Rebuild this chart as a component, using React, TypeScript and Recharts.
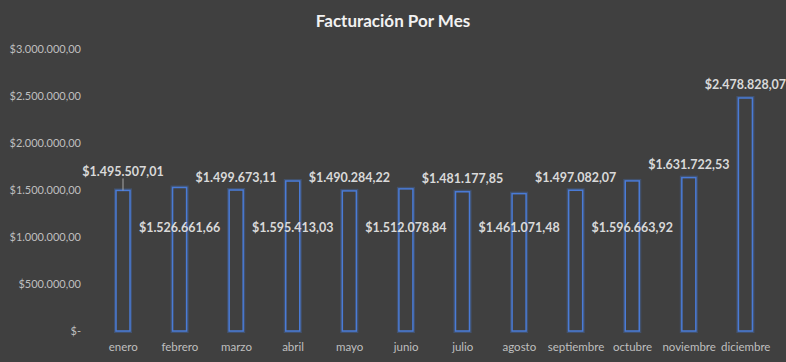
import { BarChart, Bar, XAxis, YAxis, LabelList } from 'recharts'

const months = ['enero', 'febrero', 'marzo', 'abril', 'mayo', 'junio', 'julio', 'agosto', 'septiembre', 'octubre', 'noviembre', 'diciembre']
const revenue = [1495507.01, 1526661.66, 1499673.11, 1595413.03, 1490284.22, 1512078.84, 1481177.85, 1461071.48, 1497082.07, 1596663.92, 1631722.53, 2478828.07]
const yTicks = [0, 500000, 1000000, 1500000, 2000000, 2500000, 3000000]

const data = months.map((m, i) => ({ month: m, value: revenue[i] }))

const FONT = 'Lato, "Noto Sans", sans-serif'

function fmt(n: number) {
  if (n === 0) return '$-'
  const [int, dec] = n.toFixed(2).split('.')
  return '$' + int.replace(/\B(?=(\d{3})+(?!\d))/g, '.') + ',' + dec
}

// barras con contorno azul y un leve brillo
const GlowBar = (props: any) => {
  const { x, y, width, height } = props
  return (
    <g>
      <rect x={x} y={y} width={width} height={height} fill="none" stroke="#4472C4" strokeOpacity={0.35} strokeWidth={4} />
      <rect x={x} y={y} width={width} height={height} fill="#404040" stroke="#4A7BD6" strokeWidth={1.5} />
    </g>
  )
}

// etiquetas alternadas: arriba o dentro de la barra
const ValueLabel = (props: any) => {
  const { x, y, width, height, index, value } = props
  const cx = x + width / 2
  const base = y + height
  const above = index % 2 === 0 || index === 11
  const ty = above ? (index === 0 ? y - 19 : y - 13) : base - 104
  return (
    <g>
      {index === 0 && <line x1={cx} y1={y} x2={cx} y2={y - 12} stroke="#A6A6A6" strokeWidth={1} />}
      <text x={cx} y={ty} textAnchor="middle" dominantBaseline="central" fill="#D9D9D9" fontSize={12.5} fontWeight={700} fontFamily={FONT}>
        {fmt(value)}
      </text>
    </g>
  )
}

export default function App() {
  return (
    <div style={{ position: 'absolute', left: 0, top: 0, width: 786, height: 362, background: '#404040' }}>
      <div style={{ position: 'absolute', top: 10, width: 786, textAlign: 'center', color: '#F2F2F2', fontFamily: FONT, fontWeight: 700, fontSize: 17 }}>
        Facturación Por Mes
      </div>
      <BarChart width={786} height={362} data={data} margin={{ top: 49, right: 12, bottom: 0, left: 0 }} barSize={14}>
        <XAxis
          dataKey="month"
          axisLine={false}
          tickLine={false}
          height={31}
          interval={0}
          tickMargin={6}
          tick={{ fill: '#BFBFBF', fontSize: 11.5, fontFamily: FONT }}
        />
        <YAxis
          width={95}
          domain={[0, 3000000]}
          ticks={yTicks}
          axisLine={false}
          tickLine={false}
          tickSize={0}
          tickMargin={14}
          tickFormatter={fmt}
          tick={{ fill: '#BFBFBF', fontSize: 11, fontFamily: FONT }}
        />
        <Bar dataKey="value" shape={GlowBar} isAnimationActive={false}>
          <LabelList dataKey="value" content={ValueLabel} />
        </Bar>
      </BarChart>
    </div>
  )
}
